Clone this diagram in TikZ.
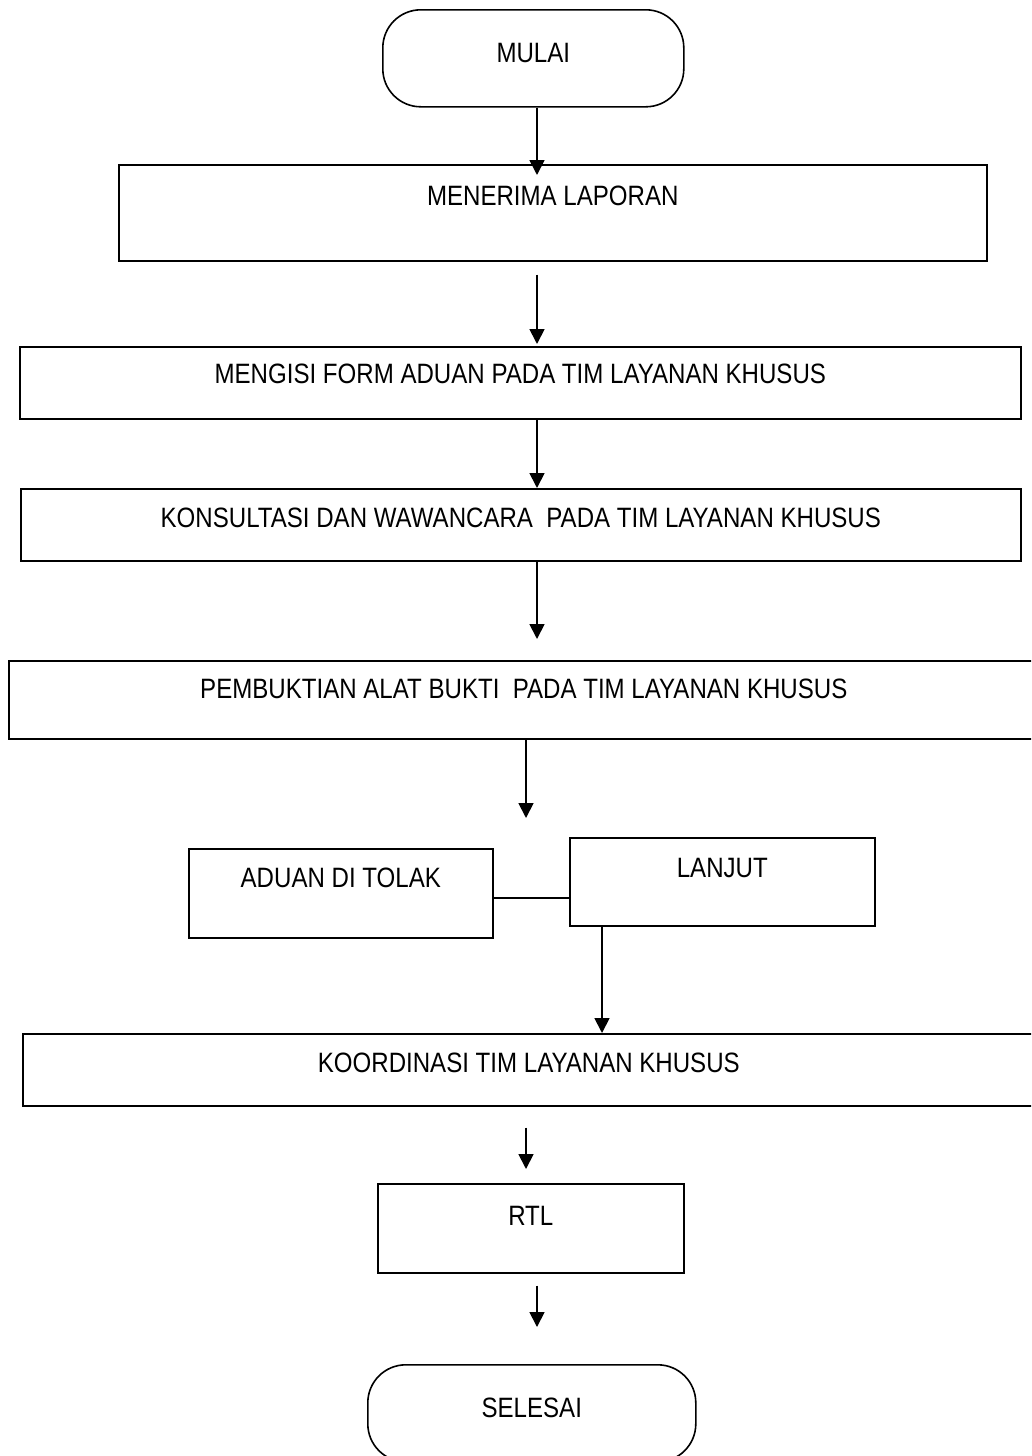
\documentclass[tikz,border=0pt]{standalone}
\usepackage{fontspec}
\setmainfont{Liberation Sans}[FakeStretch=0.86]
\usetikzlibrary{arrows.meta}
\begin{document}
\begin{tikzpicture}[x=1pt,y=-1pt,
  font=\fontsize{28}{32}\selectfont,
  box/.style={draw, rectangle, line width=1.6pt, inner sep=0pt, anchor=north west},
  term/.style={box, rounded corners=38pt},
  arr/.style={line width=1.8pt, -{Triangle[length=15pt,width=15pt]}},
  conn/.style={line width=1.6pt}]
\useasboundingbox (0,0) rectangle (1031,1456);
\fill[white] (0,0) rectangle (1031,1456);
\clip (0,0) rectangle (1031,1456);

\node[term, minimum width=301pt, text height=53pt, text depth=44pt] (mulai) at (382,9) {MULAI};
\node[box, minimum width=868pt, text height=41pt, text depth=55pt] (terima) at (118,164) {MENERIMA LAPORAN};
\node[box, minimum width=1001pt, text height=37pt, text depth=35pt] (isi) at (19,346) {MENGISI FORM ADUAN PADA TIM LAYANAN KHUSUS};
\node[box, minimum width=1000pt, text height=39pt, text depth=33pt] (konsul) at (20,488) {KONSULTASI DAN WAWANCARA\ \ PADA TIM LAYANAN KHUSUS};
\node[box, minimum width=1030pt, text height=38pt, text depth=40pt] (bukti) at (8,660) {PEMBUKTIAN ALAT BUKTI\ \ PADA TIM LAYANAN KHUSUS};
\node[box, minimum width=304pt, text height=39pt, text depth=50pt] (tolak) at (188,848) {ADUAN DI TOLAK};
\node[box, minimum width=305pt, text height=40pt, text depth=48pt] (lanjut) at (569,837) {LANJUT};
\node[box, minimum width=1012pt, text height=39pt, text depth=33pt] (koord) at (22,1033) {KOORDINASI TIM LAYANAN KHUSUS};
\node[box, minimum width=306pt, text height=42pt, text depth=47pt] (rtl) at (377,1183) {RTL};
\node[term, minimum width=328pt, text height=53pt, text depth=44pt] (selesai) at (367,1364) {SELESAI};

\coordinate (cA) at (537,0);
\coordinate (cB) at (526,0);
\coordinate (cC) at (602,0);
\coordinate (fork) at (526,818);
\coordinate (tie) at (530,898);

\draw[arr, shorten >=-11pt] (mulai.south -| cA) -- (terima.north -| cA);
\draw[arr, shorten <=13pt, shorten >=2pt] (terima.south -| cA) -- (isi.north -| cA);
\draw[arr] (isi.south -| cA) -- (konsul.north -| cA);
\draw[arr, shorten >=21pt] (konsul.south -| cA) -- (bukti.north -| cA);
\draw[arr] (bukti.south -| cB) -- (fork);
\draw[conn] (tolak.east |- tie) -- (lanjut.west |- tie);
\draw[arr] (lanjut.south -| cC) -- (koord.north -| cC);
\draw[arr, shorten <=21pt, shorten >=14pt] (koord.south -| cB) -- (rtl.north -| cB);
\draw[arr, shorten <=12pt, shorten >=37pt] (rtl.south -| cA) -- (selesai.north -| cA);
\end{tikzpicture}
\end{document}
